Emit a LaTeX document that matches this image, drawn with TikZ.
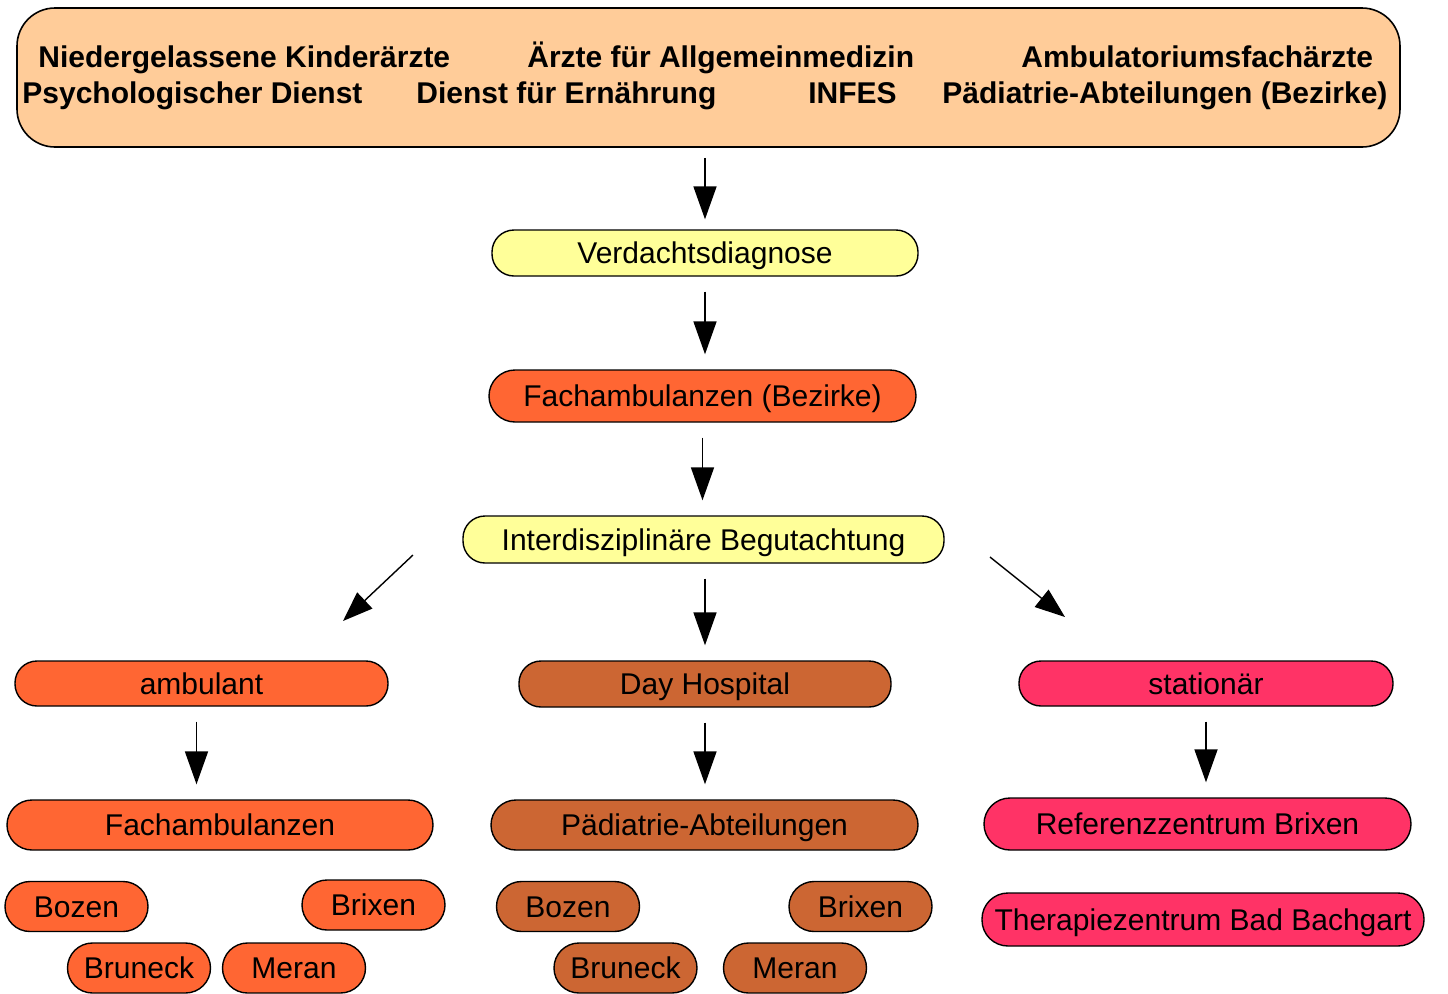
\documentclass[tikz,border=0pt]{standalone}
\usepackage{fontspec}
\setmainfont{Liberation Sans}
\usetikzlibrary{arrows.meta}
\definecolor{peach}{HTML}{FFCC99}
\definecolor{pale}{HTML}{FFFF99}
\definecolor{orange}{HTML}{FF6633}
\definecolor{brown}{HTML}{CC6633}
\definecolor{rose}{HTML}{FF3366}

\begin{document}
\begin{tikzpicture}[x=0.5pt,y=-0.5pt]
\tikzstyle{every node}+=[inner sep=0pt]
\tikzstyle{pill}=[draw=black, line width=0.7pt, rounded corners=11pt, text height=10.7pt, text depth=0pt, font=\fontsize{15}{18}\selectfont]
\tikzstyle{town}=[pill, minimum width=71.5pt, minimum height=25pt, rounded corners=12.5pt]
\tikzstyle{head}=[font=\fontsize{15}{18}\selectfont\bfseries, anchor=base west]
\tikzstyle{flow}=[line width=0.9pt, -{Triangle[length=16.5pt,width=11.5pt]}, shorten <=7.5pt, shorten >=7.5pt]
\tikzstyle{slant}=[line width=0.7pt, -{Triangle[length=15pt,width=11pt]}]
\useasboundingbox (0,0) rectangle (1448,993);
\node[draw=black, line width=0.8pt, fill=peach, rounded corners=19pt, minimum width=691.5pt, minimum height=69.5pt] (src) at (708.5,77.5) {};
\node[head] (t1) at (38,67) {Niedergelassene Kinderärzte};
\node[head] (t2) at (527,67) {Ärzte für Allgemeinmedizin};
\node[head] (t3) at (1021,67) {Ambulatoriumsfachärzte};
\node[head] (t4) at (22,103) {Psychologischer Dienst};
\node[head] (t5) at (416,103) {Dienst für Ernährung};
\node[head] (t6) at (808,103) {INFES};
\node[head] (t7) at (942,103) {Pädiatrie-Abteilungen (Bezirke)};
\node[pill, fill=pale, minimum width=213pt, minimum height=23pt] (verd) at (705,253) {Verdachtsdiagnose};
\node[pill, fill=orange, minimum width=213.5pt, minimum height=26pt, rounded corners=13pt] (facb) at (702.5,396) {Fachambulanzen (Bezirke)};
\node[pill, fill=pale, minimum width=240.5pt, minimum height=23.5pt] (begut) at (703.5,539.5) {Interdisziplinäre Begutachtung};
\node[pill, fill=orange, minimum width=186.5pt, minimum height=22.5pt] (amb) at (201.5,683.5) {ambulant};
\node[pill, fill=brown, minimum width=186pt, minimum height=23pt] (day) at (705,684) {Day Hospital};
\node[pill, fill=rose, minimum width=187pt, minimum height=22.5pt] (stat) at (1206,683.5) {stationär};
\node[pill, fill=orange, minimum width=213pt, minimum height=25pt, rounded corners=12.5pt] (fachL) at (220,825) {Fachambulanzen};
\node[pill, fill=brown, minimum width=213.5pt, minimum height=25pt, rounded corners=12.5pt] (paed) at (704.5,825) {Pädiatrie-Abteilungen};
\node[pill, fill=rose, minimum width=213.5pt, minimum height=26pt, rounded corners=13pt] (ref) at (1197.5,824) {Referenzzentrum Brixen};
\node[pill, fill=rose, minimum width=221pt, minimum height=26.5pt, rounded corners=13pt] (thera) at (1203,919.5) {Therapiezentrum Bad Bachgart};
\node[town, fill=orange] (bozL) at (76.5,906.5) {Bozen};
\node[town, fill=orange] (brixL) at (373.5,905) {Brixen};
\node[town, fill=orange] (brunL) at (139,968) {Bruneck};
\node[town, fill=orange] (merL) at (294,968) {Meran};
\node[town, fill=brown] (bozM) at (568,906.5) {Bozen};
\node[town, fill=brown] (brixM) at (860.5,906.5) {Brixen};
\node[town, fill=brown] (brunM) at (625.5,968) {Bruneck};
\node[town, fill=brown] (merM) at (795,968) {Meran};
\coordinate (dl0) at (413,555);
\coordinate (dl1) at (343,621);
\coordinate (dr0) at (990,557);
\coordinate (dr1) at (1065,617);
\draw[flow, shorten <=5pt, shorten >=5pt] (verd |- src.south) -- (verd.north);
\draw[flow] (verd.south) -- (verd.south |- facb.north);
\draw[flow] (facb.south) -- (facb.south |- begut.north);
\draw[flow] (day |- begut.south) -- (day.north);
\draw[slant] (dl0) -- (dl1);
\draw[slant] (dr0) -- (dr1);
\draw[flow] ([xshift=-2.5pt]amb.south) -- ([xshift=-2.5pt]amb.south |- fachL.north);
\draw[flow] (day.south) -- (day.south |- paed.north);
\draw[flow] (stat.south) -- (stat.south |- ref.north);
\end{tikzpicture}
\end{document}
